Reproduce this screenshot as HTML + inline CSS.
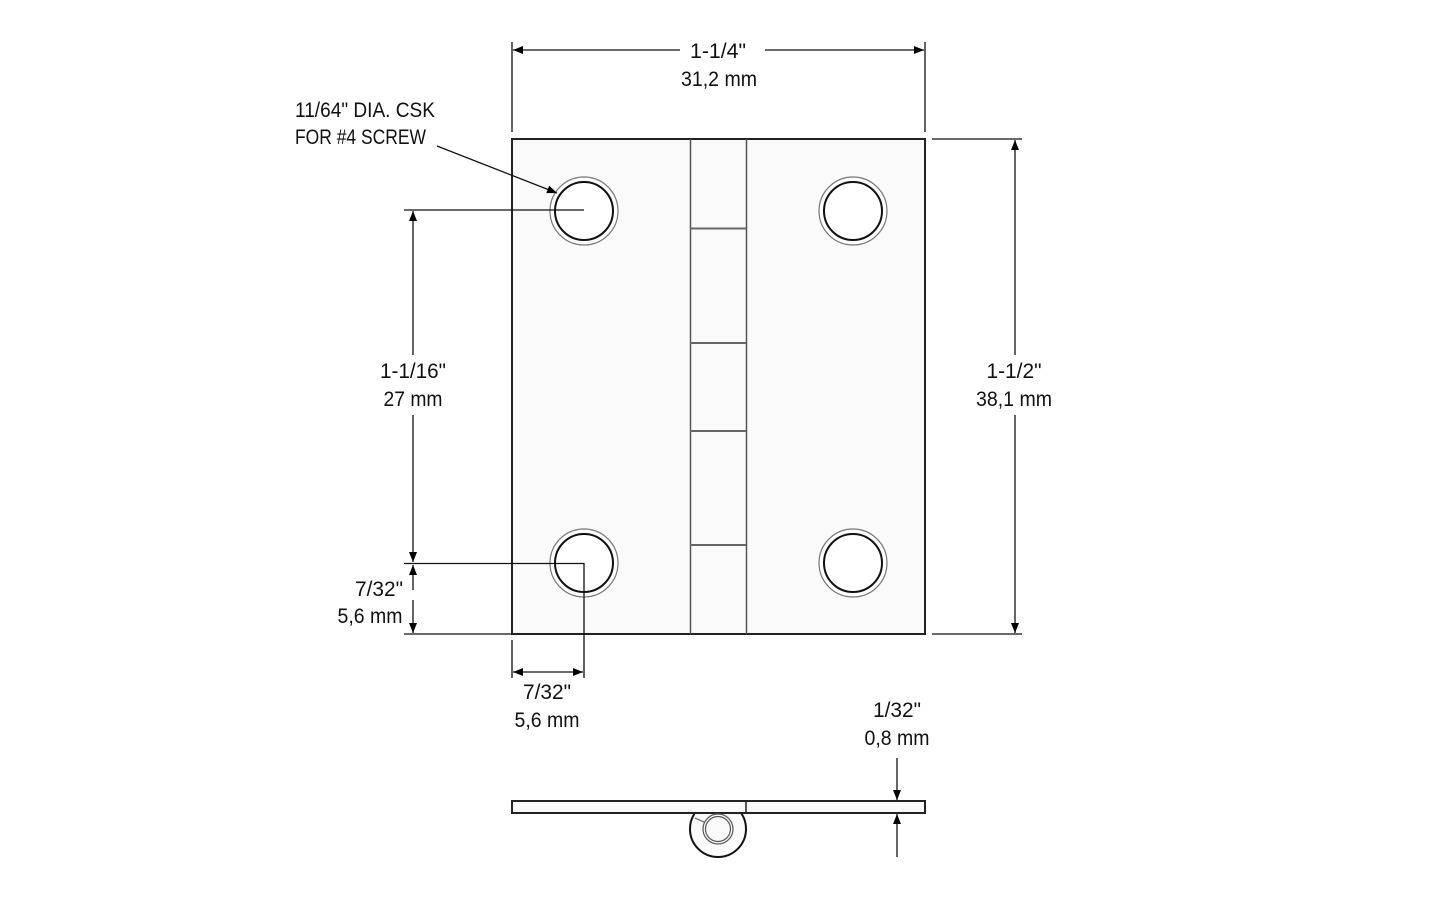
<!DOCTYPE html>
<html><head><style>
html,body{margin:0;padding:0;background:#fff;}
svg{display:block;}
text{font-family:"Liberation Sans Narrow","Liberation Sans",sans-serif;font-size:21px;fill:#111;}
</style></head><body>
<svg width="1445" height="903" viewBox="0 0 1445 903" xmlns="http://www.w3.org/2000/svg">
<defs>
<marker id="a" viewBox="0 0 10 10" refX="10" refY="5" markerWidth="10" markerHeight="10" markerUnits="userSpaceOnUse" orient="auto"><path d="M0,1 L10,5 L0,9 z" fill="#000"/></marker>
</defs>
<rect x="512" y="139" width="413" height="495" fill="#fafafa" stroke="#222" stroke-width="2"/>
<line x1="690.5" y1="139" x2="690.5" y2="634" stroke="#555" stroke-width="1.5"/>
<line x1="746.5" y1="139" x2="746.5" y2="634" stroke="#555" stroke-width="1.5"/>
<g stroke="#666" stroke-width="2">
<line x1="690" y1="228.5" x2="746" y2="228.5"/>
<line x1="690" y1="343" x2="746" y2="343"/>
<line x1="690" y1="431" x2="746" y2="431"/>
<line x1="690" y1="545" x2="746" y2="545"/>
</g>
<g fill="#fff">
<circle cx="584" cy="211" r="34" stroke="#777" stroke-width="1.2"/><circle cx="584" cy="211" r="29" stroke="#111" stroke-width="2"/>
<circle cx="853" cy="211" r="34" stroke="#777" stroke-width="1.2"/><circle cx="853" cy="211" r="29" stroke="#111" stroke-width="2"/>
<circle cx="584" cy="563" r="34" stroke="#777" stroke-width="1.2"/><circle cx="584" cy="563" r="29" stroke="#111" stroke-width="2"/>
<circle cx="853" cy="563" r="34" stroke="#777" stroke-width="1.2"/><circle cx="853" cy="563" r="29" stroke="#111" stroke-width="2"/>
</g>
<g stroke="#111" stroke-width="1.3" fill="none">
<line x1="512" y1="42" x2="512" y2="132"/><line x1="925" y1="42" x2="925" y2="132"/>
<line x1="680" y1="50" x2="513" y2="50" marker-end="url(#a)"/>
<line x1="765" y1="50" x2="924" y2="50" marker-end="url(#a)"/>
<line x1="932" y1="139" x2="1022" y2="139"/><line x1="932" y1="634" x2="1022" y2="634"/>
<line x1="1015" y1="355" x2="1015" y2="140" marker-end="url(#a)"/>
<line x1="1015" y1="415" x2="1015" y2="633" marker-end="url(#a)"/>
<line x1="404" y1="210" x2="584" y2="210"/>
<line x1="404" y1="563.5" x2="584" y2="563.5"/>
<line x1="404" y1="634" x2="512" y2="634"/>
<line x1="413" y1="355" x2="413" y2="211" marker-end="url(#a)"/>
<line x1="413" y1="415" x2="413" y2="562" marker-end="url(#a)"/>
<line x1="413" y1="590" x2="413" y2="565" marker-end="url(#a)"/>
<line x1="413" y1="600" x2="413" y2="633" marker-end="url(#a)"/>
<line x1="584" y1="563" x2="584" y2="678"/><line x1="512" y1="640" x2="512" y2="678"/>
<line x1="548" y1="672" x2="513" y2="672" marker-end="url(#a)"/>
<line x1="548" y1="672" x2="583" y2="672" marker-end="url(#a)"/>
<line x1="437" y1="146" x2="557" y2="193" marker-end="url(#a)"/>
<line x1="897" y1="758" x2="897" y2="800" marker-end="url(#a)"/>
<line x1="897" y1="857" x2="897" y2="814" marker-end="url(#a)"/>
</g>
<circle cx="718" cy="829" r="28" fill="#fafafa" stroke="#111" stroke-width="2"/>
<rect x="512" y="801" width="413" height="12" fill="#fafafa" stroke="#222" stroke-width="2"/>
<line x1="746" y1="801" x2="746" y2="813" stroke="#222" stroke-width="1.5"/>
<circle cx="718" cy="829" r="15" fill="#fafafa" stroke="#555" stroke-width="1.2"/>
<circle cx="718" cy="829" r="12.5" fill="#fafafa" stroke="#555" stroke-width="1.2"/>
<line x1="695" y1="818" x2="704" y2="822" stroke="#555" stroke-width="1"/>
<g text-anchor="middle">
<text x="718" y="58" textLength="56" lengthAdjust="spacingAndGlyphs">1-1/4"</text><text x="719" y="86" textLength="76" lengthAdjust="spacingAndGlyphs">31,2 mm</text>
<text x="1014" y="378" textLength="55" lengthAdjust="spacingAndGlyphs">1-1/2"</text><text x="1014" y="406" textLength="76" lengthAdjust="spacingAndGlyphs">38,1 mm</text>
<text x="413" y="378" textLength="66" lengthAdjust="spacingAndGlyphs">1-1/16"</text><text x="413" y="406" textLength="59" lengthAdjust="spacingAndGlyphs">27 mm</text>
<text x="379" y="596" textLength="48" lengthAdjust="spacingAndGlyphs">7/32"</text><text x="370" y="623" textLength="65" lengthAdjust="spacingAndGlyphs">5,6 mm</text>
<text x="547" y="699" textLength="48" lengthAdjust="spacingAndGlyphs">7/32"</text><text x="547" y="727" textLength="65" lengthAdjust="spacingAndGlyphs">5,6 mm</text>
<text x="897" y="717" textLength="48" lengthAdjust="spacingAndGlyphs">1/32"</text><text x="897" y="745" textLength="65" lengthAdjust="spacingAndGlyphs">0,8 mm</text>
</g>
<text x="295" y="117" textLength="140" lengthAdjust="spacingAndGlyphs">11/64" DIA. CSK</text>
<text x="295" y="144" textLength="131" lengthAdjust="spacingAndGlyphs">FOR #4 SCREW</text>
</svg>
</body></html>
